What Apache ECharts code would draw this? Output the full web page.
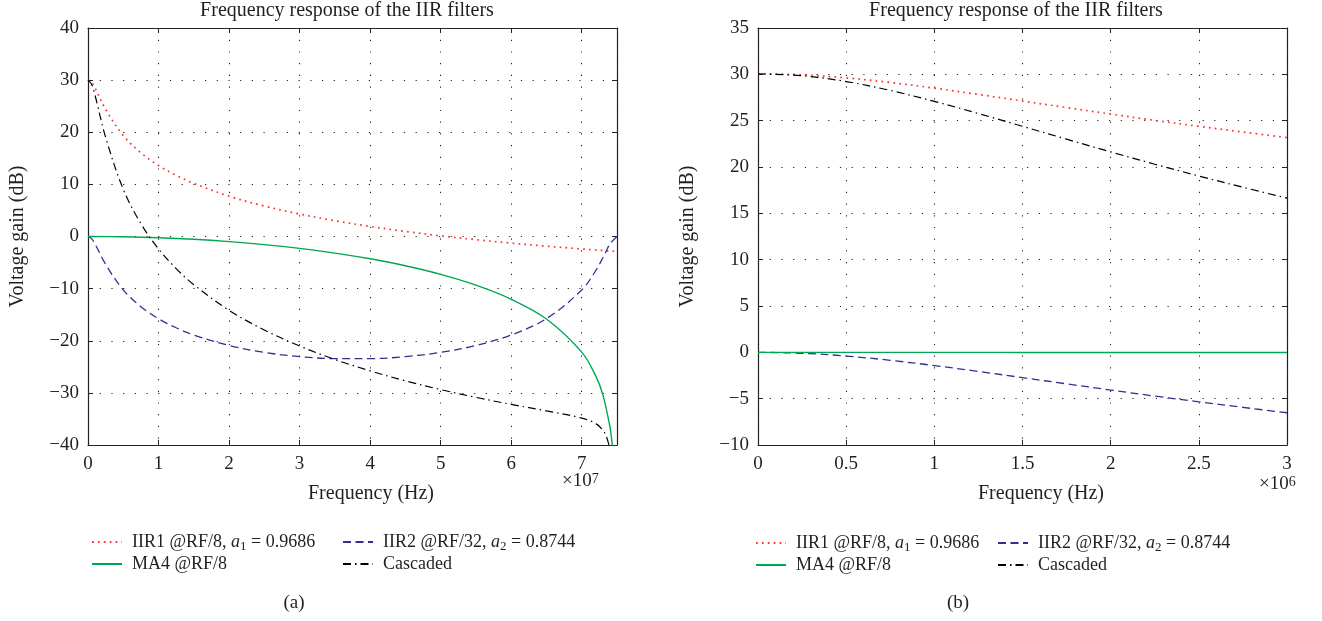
<!DOCTYPE html>
<html><head><meta charset="utf-8">
<script src="https://cdn.jsdelivr.net/npm/echarts@6.0.0/dist/echarts.min.js"></script>
<style>html,body{margin:0;padding:0;background:#fff;}#c{width:1322px;height:621px;}</style>
</head><body><div id="c"></div>
<script>
// ---- Panel (a): frequency in units of 1e7 Hz, gain in dB ----
const freqA = [0, 0.05, 0.1, 0.25, 0.5, 0.75, 1, 1.25, 1.5, 2, 2.5, 3, 3.5, 4, 4.5, 5, 5.5, 6, 6.5, 7, 7.2, 7.3, 7.35, 7.4, 7.5];
const iir1A = [30.06, 29.62, 28.50, 24.39, 19.36, 16.05, 13.63, 11.74, 10.19, 7.73, 5.84, 4.31, 3.02, 1.93, 0.97, 0.13, -0.61, -1.27, -1.86, -2.39, -2.59, -2.69, -2.74, -2.78, -2.87];
const iir2A = [0, -0.40, -1.43, -5.34, -10.25, -13.46, -15.76, -17.51, -18.90, -20.91, -22.23, -23.04, -23.43, -23.43, -23.04, -22.23, -20.91, -18.90, -15.76, -10.25, -6.52, -4.07, -2.73, -1.43, 0];
const cascA = [30.06, 29.22, 27.07, 19.03, 9.05, 2.46, -2.37, -6.15, -9.25, -14.16, -17.94, -21.01, -23.59, -25.78, -27.69, -29.37, -30.86, -32.21, -33.45, -34.83, -35.90, -37.15, -38.41, -40.71, null];
const freqMA4A = [0, 0.5, 1, 1.5, 2, 2.5, 3, 3.5, 4, 4.5, 5, 5.5, 6, 6.5, 7, 7.2, 7.3, 7.4, 7.42, 7.44];
const ma4A = [0, -0.06, -0.24, -0.54, -0.98, -1.55, -2.28, -3.18, -4.28, -5.62, -7.27, -9.34, -12.04, -15.83, -22.19, -26.79, -30.39, -36.50, -38.46, -40.97];

// ---- Panel (b): frequency in units of 1e6 Hz, gain in dB ----
const freqB = [0, 0.25, 0.5, 0.75, 1, 1.25, 1.5, 1.75, 2, 2.25, 2.5, 2.75, 3];
const iir1B = [30.06, 29.95, 29.62, 29.12, 28.51, 27.83, 27.12, 26.41, 25.71, 25.03, 24.39, 23.77, 23.18];
const iir2B = [0, -0.10, -0.40, -0.86, -1.43, -2.06, -2.73, -3.40, -4.07, -4.72, -5.34, -5.94, -6.52];
const ma4B = [0, 0, 0, 0, 0, 0, -0.01, -0.01, -0.01, -0.01, -0.01, -0.02, -0.02];
const cascB = [30.06, 29.85, 29.22, 28.26, 27.08, 25.77, 24.39, 23.00, 21.63, 20.30, 19.03, 17.81, 16.64];

// ---- Texts ----
const chartTitle = 'Frequency response of the IIR filters';
const xName = 'Frequency (Hz)';
const yName = 'Voltage gain (dB)';
const legendLabels = {
  'IIR1': 'IIR1 @RF/8, {i|a}{s|1} = 0.9686',
  'IIR2': 'IIR2 @RF/32, {i|a}{s|2} = 0.8744',
  'MA4': 'MA4 @RF/8',
  'Cascaded': 'Cascaded'
};
const captions = ['(a)', '(b)'];
const exponents = ['7', '6'];

// ---- Styling ----
const FONT = 'Liberation Serif';
const TXT = '#231f20';
const FS_TICK = 19, FS_NAME = 20, FS_TITLE = 20, FS_LEG = 18;
const GRIDLINE = {color: '#222', width: 1.1, type: [1.2, 10.5]};
const styles = {
  'IIR1': {color: '#ff3030', width: 1.7, type: [1.7, 4.2]},
  'IIR2': {color: '#2e3192', width: 1.3, type: [8, 4.5]},
  'MA4': {color: '#00a651', width: 1.4, type: 'solid'},
  'Cascaded': {color: '#000000', width: 1.2, type: [8, 4, 1.5, 4]}
};
const fmtNum = v => String(v).replace('-', '\u2212');

function xAxes(gi, max, interval, showMax) {
  const base = {gridIndex: gi, type: 'value', min: 0, max: max, interval: interval,
    axisLine: {show: true, onZero: false, lineStyle: {color: '#222', width: 1.2}},
    axisTick: {show: true, inside: true, length: 5, lineStyle: {color: '#222'}}};
  return [
    Object.assign({}, base, {position: 'bottom',
      axisLabel: {show: true, showMaxLabel: showMax, margin: 10, fontFamily: FONT, fontSize: FS_TICK, color: TXT, formatter: fmtNum},
      splitLine: {show: true, lineStyle: GRIDLINE}}),
    Object.assign({}, base, {position: 'top', axisLabel: {show: false}, splitLine: {show: false}})
  ];
}
function yAxes(gi, min, max, interval) {
  const base = {gridIndex: gi, type: 'value', min: min, max: max, interval: interval,
    axisLine: {show: true, onZero: false, lineStyle: {color: '#222', width: 1.2}},
    axisTick: {show: true, inside: true, length: 5, lineStyle: {color: '#222'}}};
  return [
    Object.assign({}, base, {position: 'left', name: yName, nameLocation: 'middle', nameGap: 60,
      nameTextStyle: {fontFamily: FONT, fontSize: FS_NAME, color: TXT},
      axisLabel: {show: true, margin: 9, fontFamily: FONT, fontSize: FS_TICK, color: TXT, formatter: fmtNum},
      splitLine: {show: true, lineStyle: GRIDLINE}}),
    Object.assign({}, base, {position: 'right', axisLabel: {show: false}, splitLine: {show: false}})
  ];
}
function pairs(xs, ys) { return xs.map((x, i) => [x, ys[i]]); }
function line(name, gi, xs, ys) {
  const s = styles[name];
  return {name: name, type: 'line', xAxisIndex: gi * 2, yAxisIndex: gi * 2, data: pairs(xs, ys),
    symbol: 'none', showSymbol: false, smooth: 0.35, clip: true, connectNulls: false,
    lineStyle: {color: s.color, width: s.width, type: s.type}, itemStyle: {color: s.color},
    emphasis: {disabled: true}, z: 3};
}
function legend(left, top, names) {
  return {left: left, top: top, orient: 'vertical', padding: 0, itemGap: 0, itemWidth: 30, itemHeight: 14,
    data: names, selectedMode: false, itemStyle: {opacity: 0},
    formatter: n => legendLabels[n],
    textStyle: {fontFamily: FONT, fontSize: FS_LEG, color: TXT, lineHeight: 22, padding: [0, 0, 0, 5],
      rich: {i: {fontFamily: FONT, fontSize: FS_LEG, color: TXT, fontStyle: 'italic', lineHeight: 22},
             s: {fontFamily: FONT, fontSize: 13, color: TXT, verticalAlign: 'bottom', lineHeight: 12}}}};
}
function title(text, left, top, align, size) {
  return {text: text, left: left, top: top, textAlign: align, padding: 0,
    textStyle: {fontFamily: FONT, fontSize: size, fontWeight: 'normal', color: TXT,
      rich: {m: {fontFamily: FONT, fontSize: size, color: TXT},
             e: {fontFamily: FONT, fontSize: 14, color: TXT, verticalAlign: 'top', lineHeight: 12}}}};
}

const option = {
  animation: false,
  backgroundColor: '#ffffff',
  title: [
    title(chartTitle, 347, 1, 'center', FS_TITLE),
    title(chartTitle, 1016, 1, 'center', FS_TITLE),
    title(xName, 371, 484, 'center', FS_NAME),
    title(xName, 1041, 484, 'center', FS_NAME),
    title('{m|\u00d710}{e|' + exponents[0] + '}', 562, 472, 'left', FS_TICK),
    title('{m|\u00d710}{e|' + exponents[1] + '}', 1259, 475, 'left', FS_TICK),
    title(captions[0], 294, 594, 'center', FS_TICK),
    title(captions[1], 958, 594, 'center', FS_TICK)
  ],
  legend: [
    legend(91, 531, ['IIR1', 'MA4']),
    legend(342, 531, ['IIR2', 'Cascaded']),
    legend(755, 532, ['IIR1', 'MA4']),
    legend(997, 532, ['IIR2', 'Cascaded'])
  ],
  grid: [
    {left: 88, top: 28, width: 529, height: 417, show: false},
    {left: 758, top: 28, width: 529, height: 417, show: false}
  ],
  xAxis: xAxes(0, 7.5, 1, false).concat(xAxes(1, 3, 0.5, true)),
  yAxis: yAxes(0, -40, 40, 10).concat(yAxes(1, -10, 35, 5)),
  series: [
    line('IIR1', 0, freqA, iir1A),
    line('IIR2', 0, freqA, iir2A),
    line('MA4', 0, freqMA4A, ma4A),
    line('Cascaded', 0, freqA, cascA),
    line('IIR1', 1, freqB, iir1B),
    line('IIR2', 1, freqB, iir2B),
    line('MA4', 1, freqB, ma4B),
    line('Cascaded', 1, freqB, cascB)
  ]
};
const chart = echarts.init(document.getElementById('c'), null, {renderer: 'canvas'});
chart.setOption(option);
</script>
</body></html>
